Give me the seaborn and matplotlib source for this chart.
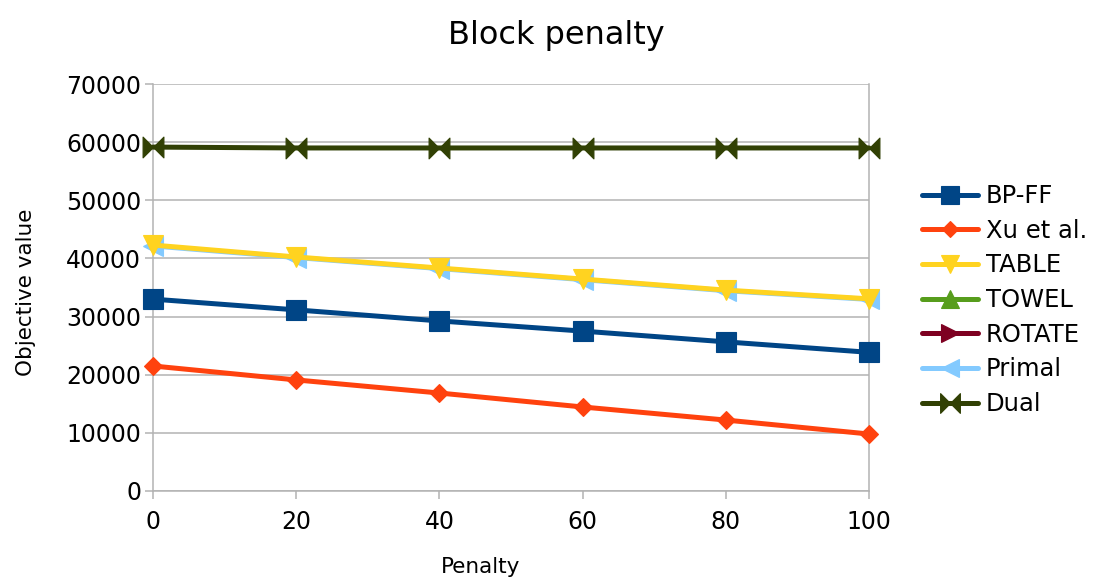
import numpy as np
import pandas as pd
import matplotlib
matplotlib.use("Agg")
import matplotlib.pyplot as plt
from matplotlib.path import Path
from matplotlib.lines import Line2D
import seaborn as sns

# Penalty levels on the x axis
penalty = [0, 20, 40, 60, 80, 100]

# Objective values per method (NaN = no results for that method)
bp_ff = [33000, 31150, 29250, 27500, 25650, 23850]
xu_et_al = [21500, 19100, 16850, 14450, 12200, 9800]
table = [42300, 40250, 38350, 36450, 34550, 33050]
towel = [np.nan] * 6
rotate = [np.nan] * 6
primal = [42150, 40150, 38250, 36350, 34450, 32950]
dual = [59150, 59000, 59000, 59000, 59000, 59000]

series_names = ["BP-FF", "Xu et al.", "TABLE", "TOWEL", "ROTATE", "Primal", "Dual"]
series_values = [bp_ff, xu_et_al, table, towel, rotate, primal, dual]

y_ticks = [0, 10000, 20000, 30000, 40000, 50000, 60000, 70000]
x_ticks = [0, 20, 40, 60, 80, 100]

# Bow-tie marker: two triangles meeting at the centre
bowtie = Path(
    [(-1, 1), (0, 0), (-1, -1), (-1, 1), (1, 1), (0, 0), (1, -1), (1, 1)],
    [Path.MOVETO, Path.LINETO, Path.LINETO, Path.CLOSEPOLY,
     Path.MOVETO, Path.LINETO, Path.LINETO, Path.CLOSEPOLY],
)

colors = ["#004586", "#ff420e", "#ffd320", "#579d1c", "#7e0021", "#83caff", "#314004"]
markers = ["s", "D", "v", "^", ">", "<", bowtie]
msizes = [14, 9, 14, 14, 14, 14, 15]

sns.set_style("white")
plt.rcParams["font.family"] = ["DejaVu Sans"]
plt.rcParams["text.color"] = "black"
plt.rcParams["axes.labelcolor"] = "black"

fig = plt.figure(figsize=(10.97, 5.85), dpi=100)
ax = fig.add_axes([0.1395, 0.1607, 0.6527, 0.6957])

grid_color = "#b3b3b3"

handles = []
n = len(series_names)
for i, (name, vals, c, m, ms) in enumerate(zip(series_names, series_values, colors, markers, msizes)):
    df = pd.DataFrame({"Penalty": penalty, "Objective value": vals})
    if df["Objective value"].notna().any():
        sns.lineplot(
            data=df, x="Penalty", y="Objective value", ax=ax,
            color=c, linewidth=3.6, marker=m, markersize=ms,
            markeredgecolor=c, markeredgewidth=0.8,
            zorder=10 + (n - i), legend=False,
        )
    handles.append(Line2D([], [], color=c, linewidth=3.6, marker=m,
                          markersize=ms * 0.95, markeredgecolor=c,
                          markeredgewidth=0.8, label=name))

ax.set_xlim(0, 100)
ax.set_ylim(0, 70000)
ax.set_xticks(x_ticks)
ax.set_yticks(y_ticks)
ax.set_xticklabels([str(v) for v in x_ticks])
ax.set_yticklabels([str(v) for v in y_ticks])
for line in ax.get_lines():
    line.set_clip_on(False)

ax.yaxis.grid(True, color=grid_color, linewidth=1.1)
ax.xaxis.grid(False)
ax.set_axisbelow(True)

for side in ["left", "right", "bottom"]:
    ax.spines[side].set_visible(True)
    ax.spines[side].set_color(grid_color)
    ax.spines[side].set_linewidth(1.1)
ax.spines["top"].set_visible(False)

ax.tick_params(axis="both", which="major", direction="out", length=5.5,
               width=1.1, color=grid_color, labelsize=17, labelcolor="black")
ax.tick_params(axis="y", pad=3, left=True)
ax.tick_params(axis="x", pad=8, bottom=True)

ax.set_xlabel("Penalty", fontsize=15.5, color="black")
ax.set_ylabel("Objective value", fontsize=15.5, color="black")
ax.xaxis.set_label_coords(0.458, -0.163)
ax.yaxis.set_label_coords(-0.163, 0.487)

fig.suptitle("Block penalty", fontsize=23, x=0.507, y=0.966, color="black")

fig.legend(handles=handles, loc="center left", bbox_to_anchor=(0.832, 0.487),
           frameon=False, fontsize=17.5, handlelength=2.3, handletextpad=0.3,
           labelspacing=0.44, borderaxespad=0)

fig.savefig("out.png", dpi=100)
